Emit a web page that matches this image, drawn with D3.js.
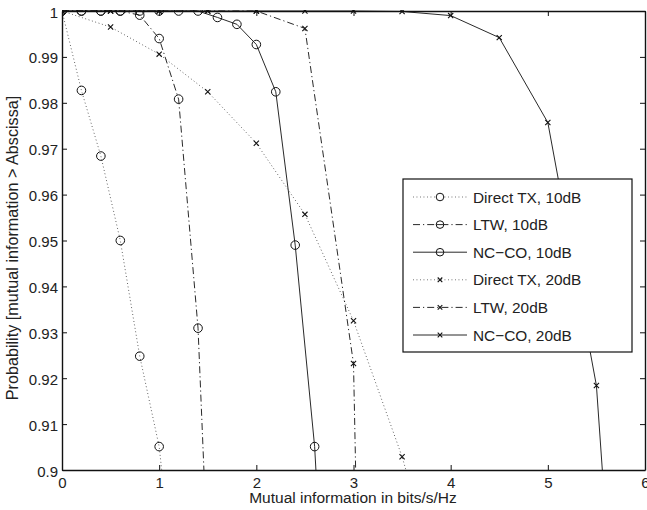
<!DOCTYPE html>
<html>
<head>
<meta charset="utf-8">
<script src="https://cdn.jsdelivr.net/npm/d3@7"></script>
<style>
  body { margin: 0; background: #fff; }
  svg { display: block; font-family: "Liberation Sans", Arial, sans-serif; }
</style>
</head>
<body>
<svg id="chart" width="647" height="510"></svg>
<script>
// data
const directTx10X = [0, 0.2, 0.4, 0.6, 0.8, 1.0, 1.2];
const directTx10Y = [1, 0.9827, 0.9684, 0.9500, 0.9248, 0.9051, 0.866];
const ltw10X = [0, 0.2, 0.4, 0.6, 0.8, 1.0, 1.2, 1.4, 1.6];
const ltw10Y = [1, 1, 1, 1, 0.9991, 0.9940, 0.9808, 0.9309, 0.829];
const ncco10X = [0, 0.2, 0.4, 0.6, 0.8, 1.0, 1.2, 1.4, 1.6, 1.8, 2.0, 2.2, 2.4, 2.6, 2.8];
const ncco10Y = [1, 1, 1, 1, 1, 1, 1, 1, 0.9986, 0.9971, 0.9927, 0.9824, 0.9490, 0.9051, 0.828];
const directTx20X = [0, 0.5, 1.0, 1.5, 2.0, 2.5, 3.0, 3.5, 4.0];
const directTx20Y = [1, 0.9965, 0.9906, 0.9824, 0.9712, 0.9557, 0.9325, 0.9029, 0.866];
const ltw20X = [0, 0.5, 1.0, 1.5, 2.0, 2.5, 3.0, 3.5];
const ltw20Y = [1, 1, 1, 1, 1, 0.9962, 0.9232, 0.40];
const ncco20X = [0, 0.5, 1.0, 1.5, 2.0, 2.5, 3.0, 3.5, 4.0, 4.5, 5.0, 5.5, 6.0];
const ncco20Y = [1, 1, 1, 1, 1, 1, 1, 0.9999, 0.9990, 0.9942, 0.9757, 0.9184, 0.767];

const seriesNames = ["Direct TX, 10dB", "LTW, 10dB", "NC\u2212CO, 10dB", "Direct TX, 20dB", "LTW, 20dB", "NC\u2212CO, 20dB"];
const xTicks = [0, 1, 2, 3, 4, 5, 6];
const yTicks = [0.9, 0.91, 0.92, 0.93, 0.94, 0.95, 0.96, 0.97, 0.98, 0.99, 1];
const yTickLabels = ["0.9", "0.91", "0.92", "0.93", "0.94", "0.95", "0.96", "0.97", "0.98", "0.99", "1"];

const styles = [
  { dash: "0.9,2.6", marker: "o", color: "#555" },
  { dash: "7,3,1.2,3", marker: "o", color: "#111" },
  { dash: null, marker: "o", color: "#111" },
  { dash: "0.9,2.6", marker: "x", color: "#555" },
  { dash: "7,3,1.2,3", marker: "x", color: "#111" },
  { dash: null, marker: "x", color: "#111" }
];

const series = [
  [directTx10X, directTx10Y], [ltw10X, ltw10Y], [ncco10X, ncco10Y],
  [directTx20X, directTx20Y], [ltw20X, ltw20Y], [ncco20X, ncco20Y]
].map(([xs, ys], i) => ({
  name: seriesNames[i],
  style: styles[i],
  points: xs.map((x, j) => ({ x: x, y: ys[j] }))
}));

const svg = d3.select("#chart");
const pLeft = 62, pRight = 645, pTop = 11, pBottom = 470;

const x = d3.scaleLinear().domain([0, 6]).range([pLeft, pRight]);
const y = d3.scaleLinear().domain([0.9, 1]).range([pBottom, pTop]);

svg.append("defs").append("clipPath").attr("id", "plotclip")
  .append("rect").attr("x", pLeft).attr("y", pTop - 1)
  .attr("width", pRight - pLeft).attr("height", pBottom - pTop + 1);

// axes, matlab box style with inward ticks
const tickFont = "15px";
const gx = svg.append("g").attr("transform", `translate(0,${pBottom})`)
  .call(d3.axisBottom(x).tickValues(xTicks).tickSizeInner(-5).tickSizeOuter(0).tickPadding(9).tickFormat(d3.format("d")));
const gy = svg.append("g").attr("transform", `translate(${pLeft},0)`)
  .call(d3.axisLeft(y).tickValues(yTicks).tickSizeInner(-5).tickSizeOuter(0).tickPadding(9).tickFormat((d, i) => yTickLabels[i]));
const gx2 = svg.append("g").attr("transform", `translate(0,${pTop})`)
  .call(d3.axisTop(x).tickValues(xTicks).tickSizeInner(-5).tickSizeOuter(0).tickFormat(""));
const gy2 = svg.append("g").attr("transform", `translate(${pRight},0)`)
  .call(d3.axisRight(y).tickValues(yTicks).tickSizeInner(-5).tickSizeOuter(0).tickFormat(""));

[gx, gy, gx2, gy2].forEach(g => {
  g.select(".domain").attr("stroke", "#111").attr("stroke-width", 1.4);
  g.selectAll(".tick line").attr("stroke", "#111").attr("stroke-width", 1);
  g.selectAll(".tick text").attr("fill", "#222").style("font-size", tickFont).style("font-family", "Liberation Sans, Arial, sans-serif");
});
gx.selectAll(".tick text").attr("dy", "0.71em").attr("y", 7);
gy.selectAll(".tick text").attr("x", -4).attr("dy", "0.4em");

// axis labels
svg.append("text").attr("x", (pLeft + pRight) / 2 - 0.5).attr("y", 503)
  .attr("text-anchor", "middle").style("font-size", "15.5px").attr("fill", "#222")
  .text("Mutual information in bits/s/Hz");
svg.append("text").attr("transform", `translate(18,248) rotate(-90)`)
  .attr("text-anchor", "middle").style("font-size", "16.2px").attr("fill", "#222")
  .text("Probability [mutual information > Abscissa]");

// lines
const plot = svg.append("g").attr("clip-path", "url(#plotclip)");
const line = d3.line().x(d => x(d.x)).y(d => y(d.y));

function drawMarker(g, kind) {
  if (kind === "o") {
    g.append("circle").attr("r", 4.3).attr("fill", "none").attr("stroke", "#111").attr("stroke-width", 1);
  } else {
    g.append("path").attr("d", "M-2.6,-2.6L2.6,2.6M-2.6,2.6L2.6,-2.6")
      .attr("stroke", "#111").attr("stroke-width", 1.1);
  }
}

series.forEach(s => {
  plot.append("path").datum(s.points)
    .attr("d", line).attr("fill", "none")
    .attr("stroke", s.style.color).attr("stroke-width", s.style.color === "#555" ? 1 : 0.9)
    .attr("stroke-dasharray", s.style.dash);
  plot.selectAll(null).data(s.points.filter(p => p.y >= 0.9 && p.x <= 6)).enter()
    .append("g").attr("transform", d => `translate(${x(d.x)},${y(d.y)})`)
    .each(function() { drawMarker(d3.select(this), s.style.marker); });
});

// legend
const lg = svg.append("g");
lg.append("rect").attr("x", 403).attr("y", 179).attr("width", 229).attr("height", 173)
  .attr("fill", "#fff").attr("stroke", "#111").attr("stroke-width", 1.2);
series.forEach((s, i) => {
  const ry = 197 + i * 27.6;
  lg.append("line").attr("x1", 413).attr("x2", 467).attr("y1", ry).attr("y2", ry)
    .attr("stroke", s.style.color).attr("stroke-width", 0.9).attr("stroke-dasharray", s.style.dash);
  const m = lg.append("g").attr("transform", `translate(440,${ry})`);
  if (s.style.marker === "o") {
    m.append("circle").attr("r", 3.8).attr("fill", s.style.dash ? "#fff" : "none").attr("stroke", "#111").attr("stroke-width", 1);
    if (s.style.dash && s.style.color === "#111") {
      m.append("line").attr("x1", -3.8).attr("x2", 3.8).attr("stroke", "#111").attr("stroke-width", 0.9);
    }
  } else {
    m.append("path").attr("d", "M-2.3,-2.3L2.3,2.3M-2.3,2.3L2.3,-2.3").attr("stroke", "#111").attr("stroke-width", 1.1);
  }
  lg.append("text").attr("x", 473).attr("y", ry).attr("dy", "0.36em")
    .style("font-size", "15.4px").attr("fill", "#222").text(s.name);
});
</script>
</body>
</html>
